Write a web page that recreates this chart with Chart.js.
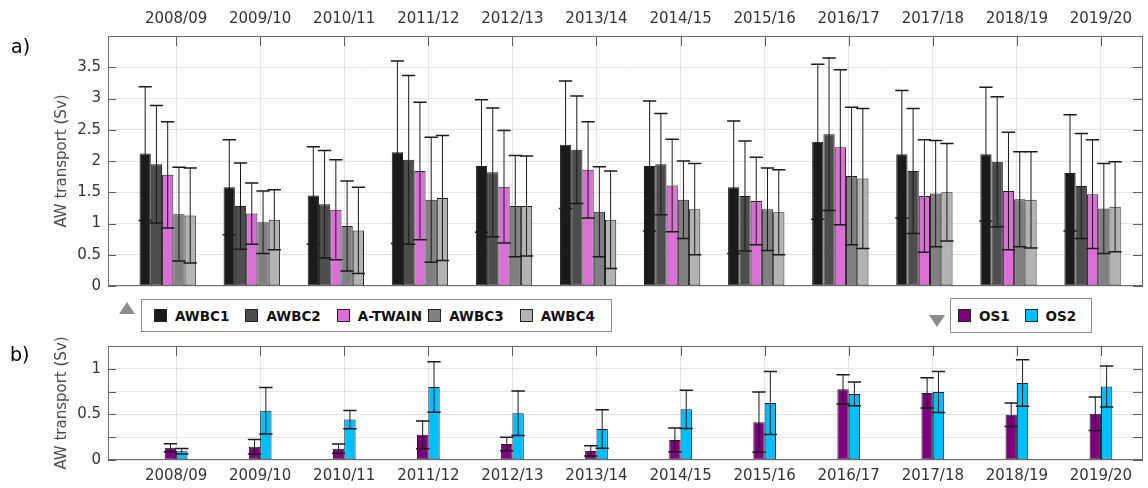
<!DOCTYPE html>
<html>
<head>
<meta charset="utf-8">
<title>AW transport</title>
<script src="https://cdn.jsdelivr.net/npm/chart.js@4.4.1/dist/chart.umd.min.js"></script>
<style>
  body { margin: 0; background: #fff; font-family: 'DejaVu Sans', sans-serif; }
  #wrap { position: relative; width: 1148px; height: 488px; overflow: hidden; }
  #cTop { position: absolute; left: 0; top: 0; }
  #cBot { position: absolute; left: 0; top: 330px; }
  .tag { position: absolute; font-size: 19px; line-height: 19px; color: #000; }
  .legend { position: absolute; box-sizing: border-box; border: 1px solid #8c8c8c; background: #fff; display: flex; align-items: center; }
  .legend .item { display: flex; align-items: center; font-weight: bold; font-size: 13.5px; color: #111; white-space: nowrap; }
  .legend .sw { width: 11px; height: 11px; border: 1px solid #222; margin-right: 8px; }
  .tri { position: absolute; width: 0; height: 0; border-left: 8px solid transparent; border-right: 8px solid transparent; }
</style>
</head>
<body>
<div id="wrap">
  <canvas id="cTop" width="1148" height="302"></canvas>
  <canvas id="cBot" width="1148" height="158"></canvas>
  <div class="tag" style="left:11px;top:37px">a)</div>
  <div class="tag" style="left:10px;top:345px">b)</div>
  <div class="tri" style="left:119px;top:302px;border-bottom:12px solid #8c8c8c"></div>
  <div class="tri" style="left:929px;top:315px;border-top:12px solid #8c8c8c"></div>
  <div class="legend" id="legTop" style="left:141px;top:299px;width:471px;height:33px;padding-left:12px"></div>
  <div class="legend" id="legBot" style="left:950px;top:298px;width:142px;height:35px;padding-left:7px"></div>
</div>
<script>
// winter seasons on the x axis
const seasons = ['2008/09', '2009/10', '2010/11', '2011/12', '2012/13', '2013/14',
                 '2014/15', '2015/16', '2016/17', '2017/18', '2018/19', '2019/20'];

// a) boundary-current transports (Sv) and their std
const awbc1    = [2.12, 1.58, 1.45, 2.14, 1.92, 2.26, 1.92, 1.58, 2.31, 2.11, 2.11, 1.81];
const awbc1Err = [1.07, 0.76, 0.78, 1.46, 1.06, 1.02, 1.04, 1.06, 1.24, 1.02, 1.07, 0.93];
const awbc2    = [1.95, 1.28, 1.31, 2.02, 1.82, 2.18, 1.95, 1.44, 2.43, 1.84, 1.99, 1.60];
const awbc2Err = [0.94, 0.69, 0.86, 1.35, 1.03, 0.86, 0.81, 0.88, 1.22, 1.00, 1.04, 0.84];
const atwain    = [1.78, 1.16, 1.22, 1.84, 1.59, 1.86, 1.61, 1.36, 2.22, 1.44, 1.52, 1.47];
const atwainErr = [0.85, 0.49, 0.80, 1.10, 0.90, 0.77, 0.74, 0.70, 1.24, 0.90, 0.94, 0.87];
const awbc3    = [1.15, 1.02, 0.96, 1.38, 1.28, 1.19, 1.38, 1.23, 1.76, 1.48, 1.39, 1.24];
const awbc3Err = [0.75, 0.50, 0.72, 1.00, 0.81, 0.72, 0.62, 0.66, 1.10, 0.85, 0.76, 0.72];
const awbc4    = [1.13, 1.06, 0.89, 1.41, 1.28, 1.06, 1.23, 1.18, 1.72, 1.50, 1.38, 1.27];
const awbc4Err = [0.76, 0.48, 0.69, 1.00, 0.80, 0.78, 0.73, 0.68, 1.12, 0.78, 0.77, 0.72];

// b) offshore branches
const os1    = [0.135, 0.145, 0.124, 0.276, 0.175, 0.100, 0.220, 0.415, 0.775, 0.735, 0.496, 0.507];
const os1Err = [0.044, 0.079, 0.051, 0.153, 0.074, 0.055, 0.130, 0.330, 0.160, 0.166, 0.130, 0.183];
const os2    = [0.095, 0.540, 0.444, 0.800, 0.513, 0.340, 0.556, 0.625, 0.724, 0.745, 0.845, 0.806];
const os2Err = [0.030, 0.255, 0.100, 0.277, 0.244, 0.210, 0.210, 0.345, 0.130, 0.225, 0.255, 0.225];

const topSeries = [
  { label: 'AWBC1',   values: awbc1,  errors: awbc1Err,  color: '#1b1b1b' },
  { label: 'AWBC2',   values: awbc2,  errors: awbc2Err,  color: '#4d4d4d' },
  { label: 'A-TWAIN', values: atwain, errors: atwainErr, color: '#da6fd6' },
  { label: 'AWBC3',   values: awbc3,  errors: awbc3Err,  color: '#808080' },
  { label: 'AWBC4',   values: awbc4,  errors: awbc4Err,  color: '#b3b3b3' },
];
const botSeries = [
  { label: 'OS1', values: os1, errors: os1Err, color: '#7e007e' },
  { label: 'OS2', values: os2, errors: os2Err, color: '#00bfff' },
];

const FONT = 'DejaVu Sans';
const TXT = '#333';
const GRID = '#e4e4e4';

// error bars: vertical whisker from mean-err to mean+err with caps
const errorBars = {
  id: 'errorBars',
  afterDatasetsDraw(chart) {
    const { ctx } = chart;
    const ys = chart.scales.y;
    ctx.save();
    ctx.strokeStyle = '#1a1a1a';
    chart.data.datasets.forEach((ds, di) => {
      chart.getDatasetMeta(di).data.forEach((bar, i) => {
        const v = ds.data[i].y, e = ds.errors[i];
        const yHi = ys.getPixelForValue(v + e);
        const yLo = ys.getPixelForValue(v - e);
        const half = bar.width / 2 + 1;
        ctx.lineWidth = 1;
        ctx.beginPath();
        ctx.moveTo(bar.x, yHi); ctx.lineTo(bar.x, yLo);
        ctx.stroke();
        ctx.lineWidth = 1.5;
        ctx.beginPath();
        ctx.moveTo(bar.x - half, yHi); ctx.lineTo(bar.x + half, yHi);
        ctx.moveTo(bar.x - half, yLo); ctx.lineTo(bar.x + half, yLo);
        ctx.stroke();
      });
    });
    ctx.restore();
  }
};

// box around the axes and inward tick marks
const axesBox = {
  id: 'axesBox',
  afterDraw(chart) {
    const { ctx, chartArea: a } = chart;
    const xs = chart.scales.x, ys = chart.scales.y;
    ctx.save();
    ctx.strokeStyle = '#5a5a5a';
    ctx.lineWidth = 1;
    ctx.beginPath();
    xs.ticks.forEach(t => {
      const px = Math.round(xs.getPixelForValue(t.value)) + 0.5;
      ctx.moveTo(px, a.top); ctx.lineTo(px, a.top + 10);
    });
    ys.ticks.forEach(t => {
      const py = Math.round(ys.getPixelForValue(t.value)) + 0.5;
      ctx.moveTo(a.left, py); ctx.lineTo(a.left + 8, py);
      ctx.moveTo(a.right, py); ctx.lineTo(a.right - 10, py);
    });
    ctx.stroke();
    ctx.strokeStyle = '#6a6a6a';
    ctx.strokeRect(Math.round(a.left) + 0.5, Math.round(a.top) + 0.5,
                   Math.round(a.right - a.left) - 1, Math.round(a.bottom - a.top) - 1);
    ctx.restore();
  }
};

function makeDatasets(series, shift) {
  return series.map(s => ({
    label: s.label,
    data: s.values.map((v, i) => ({ x: i + shift, y: v })),
    errors: s.errors,
    backgroundColor: s.color,
    borderColor: '#1f1f1f',
    borderWidth: 1,
    borderSkipped: false,
  }));
}

function makeChart(id, series, opt) {
  return new Chart(document.getElementById(id), {
    type: 'bar',
    data: { datasets: makeDatasets(series, opt.shift) },
    options: {
      responsive: false, animation: false, events: [],
      categoryPercentage: opt.catPct, barPercentage: 1,
      layout: { padding: opt.padding },
      plugins: { legend: { display: false }, tooltip: { enabled: false } },
      scales: {
        x: {
          type: 'linear', position: opt.xPos, min: -0.81, max: 11.5,
          offset: false,
          afterBuildTicks: s => { s.ticks = seasons.map((_, i) => ({ value: i })); },
          afterFit: s => { s.height = opt.xHeight; },
          ticks: {
            autoSkip: false, maxRotation: 0, padding: opt.xPad,
            color: TXT, font: { family: FONT, size: 15 },
            callback: v => seasons[v],
          },
          grid: { color: GRID, drawTicks: false, offset: false },
          border: { display: false },
        },
        y: {
          min: 0, max: opt.yMax,
          afterFit: s => { s.width = 55; },
          ticks: {
            stepSize: opt.yStep, padding: 7,
            color: TXT, font: { family: FONT, size: 15 },
            callback: opt.yLabel,
          },
          grid: { color: GRID, drawTicks: false },
          border: { display: false },
          title: {
            display: true, text: 'AW transport (Sv)', padding: 0,
            color: '#4a4a4a', font: { family: FONT, size: 15 },
          },
        },
      },
    },
    plugins: [errorBars, axesBox],
  });
}

makeChart('cTop', topSeries, {
  shift: -0.1, catPct: 0.67, xPos: 'top', xHeight: 36, xPad: 8,
  padding: { left: 53, right: 5, top: 0, bottom: 3 },
  yMax: 4, yStep: 0.5, yLabel: v => (v < 4 ? String(v) : ''),
});

makeChart('cBot', botSeries, {
  shift: 0, catPct: 0.27, xPos: 'bottom', xHeight: 28, xPad: 7,
  padding: { left: 53, right: 5, top: 15, bottom: 0 },
  yMax: 1.25, yStep: 0.25, yLabel: v => ((v * 2) % 1 === 0 ? String(v) : ''),
});

// legends as boxed rows
function fillLegend(id, series, itemWidth) {
  const box = document.getElementById(id);
  series.forEach(s => {
    const item = document.createElement('div');
    item.className = 'item';
    item.style.width = itemWidth + 'px';
    item.innerHTML = `<span class="sw" style="background:${s.color}"></span><span>${s.label}</span>`;
    box.appendChild(item);
  });
}
fillLegend('legTop', topSeries, 94);
fillLegend('legBot', botSeries, 71);
</script>
</body>
</html>
